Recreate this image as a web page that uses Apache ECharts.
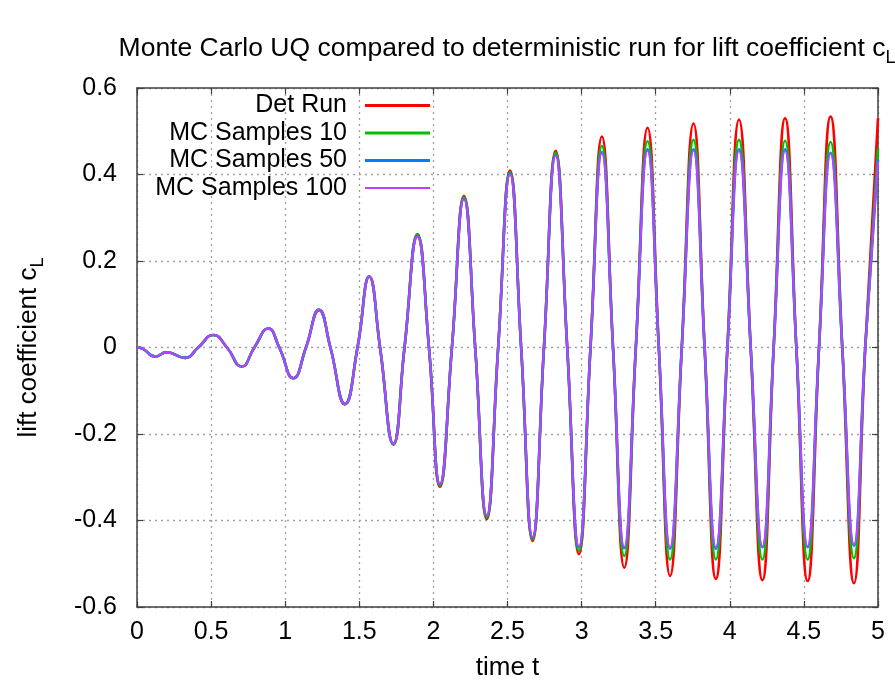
<!DOCTYPE html>
<html>
<head>
<meta charset="utf-8">
<script src="https://cdn.jsdelivr.net/npm/echarts@6/dist/echarts.min.js"></script>
<style>html,body{margin:0;padding:0;background:#fff}#c{width:895px;height:682px}</style>
</head>
<body>
<div id="c"></div>
<script>
// time stamps (extrema and zero crossings)
const times = [0, 0.04, 0.122, 0.2, 0.324, 0.413, 0.515, 0.607, 0.706, 0.792, 0.886, 0.96, 1.055, 1.14, 1.228, 1.305, 1.403, 1.488, 1.567, 1.64, 1.73, 1.805, 1.892, 1.97, 2.044, 2.125, 2.206, 2.282, 2.36, 2.437, 2.517, 2.592, 2.669, 2.746, 2.825, 2.903, 2.982, 3.06, 3.137, 3.212, 3.288, 3.366, 3.445, 3.521, 3.597, 3.676, 3.755, 3.83, 3.906, 3.984, 4.062, 4.141, 4.22, 4.296, 4.373, 4.449, 4.525, 4.602, 4.68, 4.759, 4.838, 4.914, 5.0];

const detRun = [0, -0.003, -0.021, -0.011, -0.024, 0, 0.029, 0, -0.044, 0, 0.044, 0, -0.071, 0, 0.087, 0, -0.131, 0, 0.164, 0, -0.224, 0, 0.262, 0, -0.322, 0, 0.35, 0, -0.397, 0, 0.409, 0, -0.447, 0, 0.455, 0, -0.478, 0, 0.488, 0, -0.509, 0, 0.508, 0, -0.528, 0, 0.518, 0, -0.535, 0, 0.527, 0, -0.538, 0, 0.53, 0, -0.54, 0, 0.534, 0, -0.545, 0, 0.53];

const mc10 = [0, -0.003, -0.021, -0.011, -0.024, 0, 0.029, 0, -0.044, 0, 0.044, 0, -0.071, 0, 0.087, 0, -0.131, 0, 0.164, 0, -0.224, 0, 0.26, 0, -0.319, 0, 0.347, 0, -0.393, 0, 0.405, 0, -0.443, 0, 0.45, 0, -0.47, 0, 0.466, 0, -0.482, 0, 0.477, 0, -0.49, 0, 0.48, 0, -0.49, 0, 0.48, 0, -0.49, 0, 0.478, 0, -0.49, 0, 0.475, 0, -0.487, 0, 0.46];

const mc50 = [0, -0.003, -0.021, -0.011, -0.024, 0, 0.029, 0, -0.044, 0, 0.044, 0, -0.071, 0, 0.087, 0, -0.131, 0, 0.164, 0, -0.223, 0, 0.257, 0, -0.316, 0, 0.344, 0, -0.389, 0, 0.402, 0, -0.44, 0, 0.445, 0, -0.462, 0, 0.452, 0, -0.464, 0, 0.458, 0, -0.465, 0, 0.458, 0, -0.465, 0, 0.458, 0, -0.462, 0, 0.458, 0, -0.462, 0, 0.45, 0, -0.458, 0, 0.435];

const mc100 = [0, -0.003, -0.021, -0.011, -0.024, 0, 0.029, 0, -0.044, 0, 0.044, 0, -0.071, 0, 0.087, 0, -0.131, 0, 0.164, 0, -0.223, 0, 0.256, 0, -0.315, 0, 0.343, 0, -0.388, 0, 0.4, 0, -0.438, 0, 0.443, 0, -0.46, 0, 0.45, 0, -0.462, 0, 0.455, 0, -0.463, 0, 0.455, 0, -0.462, 0, 0.455, 0, -0.46, 0, 0.455, 0, -0.46, 0, 0.448, 0, -0.456, 0, 0.43];

const seriesNames = ['Det Run', 'MC Samples 10', 'MC Samples 50', 'MC Samples 100'];
const seriesColors = ['#ff0000', '#00c000', '#0080ff', '#c040ff'];
const seriesWidths = [2.6, 2.6, 2.6, 2];
const seriesValues = [detRun, mc10, mc50, mc100];

const FONT = '"Liberation Sans", Arial, Helvetica, sans-serif';
const chart = echarts.init(document.getElementById('c'), null, {renderer: 'canvas'});

const legends = seriesNames.map((n, i) => ({
  data: [n],
  orient: 'vertical',
  align: 'right',
  right: 465,
  top: 92 + i * 27.5,
  icon: 'rect',
  itemWidth: 65,
  itemHeight: i === 3 ? 2 : 3,
  padding: 0,
  selectedMode: false,
  textStyle: {fontFamily: FONT, fontSize: 25, color: '#000', lineHeight: 27, padding: [0, 13, 0, 0]}
}));

const axisCommon = {
  type: 'value',
  axisLine: {show: true, onZero: false, lineStyle: {color: '#404040', width: 1.5}},
  axisTick: {show: true, inside: true, length: 6, lineStyle: {color: '#404040', width: 1.2}},
};

chart.setOption({
  animation: false,
  backgroundColor: '#fff',
  title: {
    text: '{m|Monte Carlo UQ compared to deterministic run for lift coefficient c}{s|L}',
    left: 502,
    textAlign: 'center',
    top: 26,
    textStyle: {
      fontWeight: 'normal',
      rich: {
        m: {fontFamily: FONT, fontSize: 26.5, fontWeight: 'normal', color: '#000', lineHeight: 36, verticalAlign: 'middle'},
        s: {fontFamily: FONT, fontSize: 18, fontWeight: 'normal', color: '#000', lineHeight: 36, verticalAlign: 'bottom'}
      }
    }
  },
  legend: legends,
  grid: {left: 137, right: 17, top: 88, bottom: 75, containLabel: false, outerBoundsMode: 'none'},
  xAxis: [
    Object.assign({}, axisCommon, {
      position: 'bottom', min: 0, max: 5, interval: 0.5,
      name: 'time t', nameLocation: 'middle', nameGap: 48,
      nameTextStyle: {fontFamily: FONT, fontSize: 26, color: '#000'},
      axisLabel: {fontFamily: FONT, fontSize: 25, color: '#000', margin: 13},
      splitLine: {show: true, lineStyle: {color: '#a0a0a0', type: [2, 4], width: 1.3}}
    }),
    Object.assign({}, axisCommon, {
      position: 'top', min: 0, max: 5, interval: 0.5,
      axisLabel: {show: false}, splitLine: {show: false}
    })
  ],
  yAxis: [
    Object.assign({}, axisCommon, {
      position: 'left', min: -0.6, max: 0.6, interval: 0.2,
      name: '{a|lift coefficient c}{s|L}', nameLocation: 'middle', nameGap: 90, nameRotate: 90,
      nameTextStyle: {
        rich: {
          a: {fontFamily: FONT, fontSize: 26, color: '#000', lineHeight: 36, verticalAlign: 'middle'},
          s: {fontFamily: FONT, fontSize: 18, color: '#000', lineHeight: 36, verticalAlign: 'bottom'}
        }
      },
      axisLabel: {fontFamily: FONT, fontSize: 25, color: '#000', margin: 20,
        formatter: v => (Math.abs(v) < 1e-9 ? '0' : (Math.round(v * 10) / 10).toString())},
      splitLine: {show: true, lineStyle: {color: '#a0a0a0', type: [2, 4], width: 1.3}}
    }),
    Object.assign({}, axisCommon, {
      position: 'right', min: -0.6, max: 0.6, interval: 0.2,
      axisLabel: {show: false}, splitLine: {show: false}
    })
  ],
  series: seriesNames.map((n, i) => ({
    name: n,
    type: 'line',
    xAxisIndex: 0,
    yAxisIndex: 0,
    showSymbol: false,
    symbol: 'none',
    smooth: 0.5,
    color: seriesColors[i],
    lineStyle: {color: seriesColors[i], width: seriesWidths[i]},
    data: times.map((t, k) => [t, seriesValues[i][k]])
  }))
});
</script>
</body>
</html>
